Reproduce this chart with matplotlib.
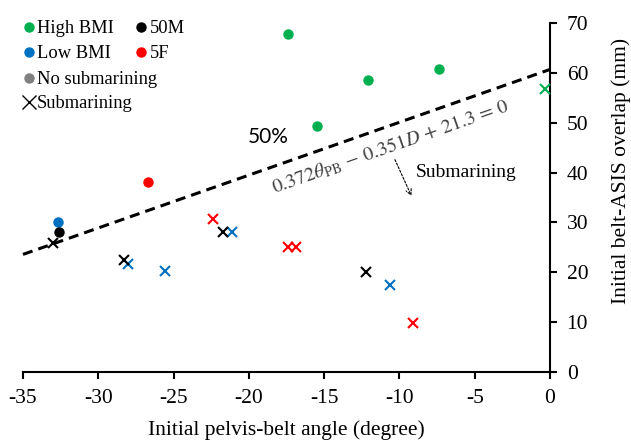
import matplotlib
matplotlib.use("Agg")
import matplotlib.pyplot as plt
from matplotlib.lines import Line2D
import numpy as np

plt.rcParams['font.family'] = ['Liberation Serif', 'DejaVu Serif']
plt.rcParams['mathtext.fontset'] = 'stix'
plt.rcParams['axes.unicode_minus'] = False

# ---- data ----
# High BMI (green)
high_ns_x = [-17.4, -15.5, -12.1, -7.35]
high_ns_y = [67.7, 49.4, 58.6, 60.7]
high_s_x = [-0.3]
high_s_y = [56.8]
# Low BMI (blue)
low_ns_x = [-32.7]
low_ns_y = [30.1]
low_s_x = [-28.0, -25.6, -21.1, -10.6]
low_s_y = [21.6, 20.3, 28.0, 17.4]
# 50M (black)
m50_ns_x = [-32.6]
m50_ns_y = [28.1]
m50_s_x = [-33.0, -28.3, -21.7, -12.2]
m50_s_y = [25.9, 22.4, 28.0, 20.1]
# 5F (red)
f5_ns_x = [-26.7]
f5_ns_y = [38.1]
f5_s_x = [-22.4, -17.4, -16.9, -9.1]
f5_s_y = [30.7, 25.1, 25.1, 9.75]

# 50% boundary: 0.372*theta - 0.351*D + 21.3 = 0
coef_theta = 0.372
coef_D = 0.351
const = 21.3
theta_range = [-35, 0]

xticks = [-35, -30, -25, -20, -15, -10, -5, 0]
yticks = [0, 10, 20, 30, 40, 50, 60, 70]

GREEN = '#00B050'
BLUE = '#0070C0'
RED = '#FF0000'
BLACK = '#000000'
GREY = '#808080'

FS = 15.5
LFS = 13.3

fig = plt.figure(figsize=(6.31, 4.42), dpi=100)
ax = fig.add_axes([23/631, 1-372/442, (550-23)/631, (372-23)/442])

th = np.array(theta_range, dtype=float)
D = (coef_theta*th + const)/coef_D
ax.plot(th, D, color='black', lw=2.2, linestyle=(0, (3.3, 2.0)), zorder=2, clip_on=False)

ms = 7.5
for xs, ys, c in [(high_ns_x, high_ns_y, GREEN), (low_ns_x, low_ns_y, BLUE),
                  (m50_ns_x, m50_ns_y, BLACK), (f5_ns_x, f5_ns_y, RED)]:
    ax.plot(xs, ys, 'o', color=c, ms=ms, mec='none', zorder=3, clip_on=False)
for xs, ys, c in [(high_s_x, high_s_y, GREEN), (low_s_x, low_s_y, BLUE),
                  (m50_s_x, m50_s_y, BLACK), (f5_s_x, f5_s_y, RED)]:
    ax.plot(xs, ys, 'x', color=c, ms=ms, mew=1.5, zorder=3, clip_on=False)

ax.set_xlim(-35, 0)
ax.set_ylim(0, 70)
ax.set_xticks(xticks)
ax.set_yticks(yticks)
ax.yaxis.tick_right()
ax.yaxis.set_label_position('right')
for s in ['left', 'top']:
    ax.spines[s].set_visible(False)
for s in ['right', 'bottom']:
    ax.spines[s].set_linewidth(1.5)
ax.tick_params(axis='both', direction='out', length=5, width=1.5, labelsize=FS)
ax.tick_params(axis='x', pad=7)
ax.tick_params(axis='y', pad=7)
ax.set_xlabel('Initial pelvis-belt angle (degree)', fontsize=FS, labelpad=9)
ax.set_ylabel('Initial belt-ASIS overlap (mm)', fontsize=FS, rotation=90)
ax.yaxis.label.set_va('center')
ax.yaxis.label.set_ha('center')
ax.yaxis.set_label_coords((621-23)/527, (372-171)/349)

# annotations
ax.text(-18.7, 47.1, '50%', fontsize=15, family=['Lato', 'DejaVu Sans'],
        ha='center', va='center')
ang = np.degrees(np.arctan((coef_theta/coef_D)*(349/70)/(527/35)))
ax.text(-10.6, 45.2, r'$0.372\theta_{\mathrm{PB}}\,-\,0.351D\,+\,21.3\,=\,0$',
        fontsize=14.3, color='#404040', rotation=ang, rotation_mode='anchor',
        ha='center', va='center')
ax.text(-8.9, 40.1, 'Submarining', fontsize=FS-1.5, ha='left', va='center')
ax.annotate('', xy=(-9.2, 35.3), xytext=(-10.3, 42.6),
            arrowprops=dict(arrowstyle='->', lw=0.8, linestyle=(0, (2, 1.5)),
                            color='black', shrinkA=0, shrinkB=0))

# legends
h1 = [Line2D([], [], marker='o', ls='none', color=GREEN, mec='none', ms=ms),
      Line2D([], [], marker='o', ls='none', color=BLUE, mec='none', ms=ms),
      Line2D([], [], marker='o', ls='none', color=BLACK, mec='none', ms=ms),
      Line2D([], [], marker='o', ls='none', color=RED, mec='none', ms=ms)]
l1 = ['High BMI', 'Low BMI', '50M', '5F']
leg1 = fig.legend(h1, l1, loc='upper left', bbox_to_anchor=(23/631, 1-20/442),
                  ncol=2, frameon=False, fontsize=LFS, handlelength=0.6,
                  handletextpad=0.15, labelspacing=0.45, columnspacing=1.2,
                  borderpad=0, borderaxespad=0)
h2 = [Line2D([], [], marker='o', ls='none', color=GREY, mec='none', ms=ms),
      Line2D([], [], marker='x', ls='none', color=BLACK, mew=1.0, ms=10)]
l2 = ['No submarining', 'Submarining']
leg2 = fig.legend(h2, l2, loc='upper left', bbox_to_anchor=(23/631, 1-71/442),
                  ncol=1, frameon=False, fontsize=LFS, handlelength=0.6,
                  handletextpad=0.15, labelspacing=0.4,
                  borderpad=0, borderaxespad=0)

fig.savefig('out.png', dpi=100)
